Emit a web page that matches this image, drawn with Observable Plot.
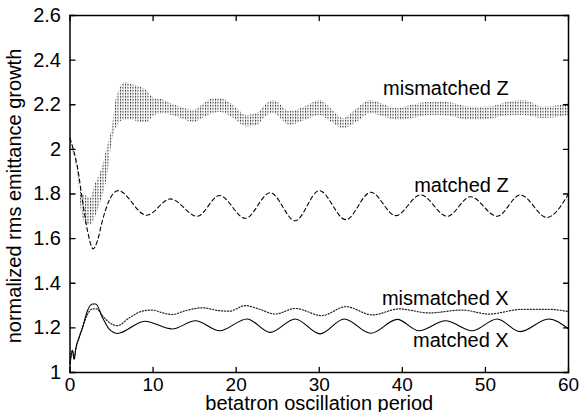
<!DOCTYPE html>
<html><head><meta charset="utf-8">
<script src="https://cdn.jsdelivr.net/npm/d3@7"></script>
<script src="https://cdn.jsdelivr.net/npm/@observablehq/plot@0.6"></script>
<style>body{margin:0;background:#fff} svg{display:block}</style>
</head><body><div id="chart"></div>
<script>
const xTicks = [0, 10, 20, 30, 40, 50, 60];
const yTicks = [1, 1.2, 1.4, 1.6, 1.8, 2, 2.2, 2.4, 2.6];
const xLabel = "betatron oscillation period";
const yLabel = "normalized rms emittance growth";

// mismatched Z: envelope of the fast oscillation (upper / lower)
const mzX  = [0, 0.5, 0.9, 1.5, 2.0, 2.5, 3.0, 3.5, 3.9, 4.5, 5.1, 5.5, 6.0, 6.5, 7.5, 8.5, 9.3, 10.1, 11.3, 12.5, 13.3, 14.9, 16.0, 17.3, 18.1, 19.7, 21.3, 22.5, 23.7, 24.5, 26.5, 28.3, 30.1, 31.5, 32.9, 34.5, 36.2, 37.8, 39.4, 41.4, 43.4, 45.4, 48.2, 50.6, 52.6, 54.6, 57.0, 60.0];
const mzHi = [2.05, 1.99, 1.93, 1.80, 1.79, 1.78, 1.84, 1.88, 1.92, 2.01, 2.10, 2.21, 2.27, 2.30, 2.29, 2.28, 2.26, 2.23, 2.22, 2.20, 2.19, 2.175, 2.20, 2.228, 2.228, 2.196, 2.152, 2.16, 2.205, 2.219, 2.17, 2.19, 2.219, 2.18, 2.138, 2.18, 2.219, 2.20, 2.183, 2.20, 2.211, 2.21, 2.189, 2.19, 2.21, 2.219, 2.189, 2.205];
const mzLo = [2.04, 1.97, 1.90, 1.70, 1.66, 1.66, 1.69, 1.74, 1.785, 1.875, 2.04, 2.09, 2.12, 2.13, 2.13, 2.12, 2.12, 2.15, 2.16, 2.15, 2.14, 2.12, 2.14, 2.16, 2.165, 2.138, 2.10, 2.107, 2.15, 2.16, 2.107, 2.13, 2.152, 2.12, 2.093, 2.12, 2.16, 2.145, 2.13, 2.14, 2.152, 2.15, 2.13, 2.135, 2.15, 2.152, 2.138, 2.152];

// matched Z
const zX = [0, 0.4, 0.9, 1.5, 2.1, 2.8, 3.3, 3.9, 4.7, 5.8, 9.2, 12.1, 15.3, 18.0, 21.1, 24.1, 27.1, 30.0, 33.2, 36.2, 39.2, 42.2, 45.4, 48.2, 51.4, 54.2, 57.4, 60];
const zY = [2.05, 2.00, 1.92, 1.77, 1.636, 1.554, 1.59, 1.681, 1.77, 1.815, 1.705, 1.778, 1.70, 1.793, 1.691, 1.806, 1.68, 1.815, 1.685, 1.808, 1.703, 1.796, 1.70, 1.788, 1.70, 1.796, 1.695, 1.80];

// mismatched X
const mxX = [0, 0.3, 0.5, 0.7, 1.1, 1.5, 2.1, 2.7, 3.2, 3.9, 4.7, 5.7, 7.1, 8.7, 9.9, 11.1, 12.3, 13.9, 15.9, 18.0, 19.2, 21.1, 22.7, 24.7, 27.1, 30.3, 33.2, 36.4, 39.6, 43.2, 47.2, 50.4, 54.4, 57.6, 60];
const mxY = [1.04, 1.10, 1.06, 1.107, 1.157, 1.20, 1.26, 1.285, 1.285, 1.255, 1.225, 1.21, 1.244, 1.275, 1.28, 1.268, 1.26, 1.277, 1.29, 1.277, 1.275, 1.30, 1.285, 1.262, 1.287, 1.255, 1.295, 1.258, 1.285, 1.267, 1.28, 1.262, 1.283, 1.283, 1.273];

// matched X
const xX = [0, 0.3, 0.5, 0.7, 1.1, 1.5, 2.1, 2.7, 3.1, 3.9, 4.7, 5.7, 9.0, 12.3, 15.1, 18.0, 21.3, 24.1, 27.1, 30.1, 33.0, 36.2, 39.4, 42.0, 45.2, 48.4, 51.4, 54.2, 57.6, 60];
const xY = [1.04, 1.098, 1.06, 1.107, 1.157, 1.20, 1.277, 1.307, 1.307, 1.247, 1.195, 1.175, 1.23, 1.195, 1.232, 1.187, 1.240, 1.180, 1.24, 1.173, 1.24, 1.176, 1.238, 1.187, 1.232, 1.187, 1.24, 1.183, 1.24, 1.195];

const labelText = ["mismatched Z", "matched Z", "mismatched X", "matched X"];
const labelX = [52.8, 52.8, 52.8, 52.8];
const labelY = [2.271, 1.838, 1.333, 1.145];

const mz = mzX.map((x, i) => ({x, hi: mzHi[i], lo: mzLo[i]}));
const z = zX.map((x, i) => ({x, y: zY[i]}));
const mx = mxX.map((x, i) => ({x, y: mxY[i]}));
const xm = xX.map((x, i) => ({x, y: xY[i]}));
const labels = labelText.map((t, i) => ({t, x: labelX[i], y: labelY[i]}));

const tickShape = {draw(ctx, l) { ctx.moveTo(0, 0); ctx.lineTo(0, -l); }};
const tickOpts = {length: 5, anchor: "start", shape: tickShape, stroke: "black", strokeWidth: 1.3};
const font = "'Liberation Sans', Arial, Helvetica, sans-serif";

const svg = Plot.plot({
  width: 581, height: 412,
  marginLeft: 69.5, marginRight: 13, marginTop: 15, marginBottom: 40,
  style: {fontFamily: font, fontSize: "20px", background: "white", color: "black"},
  x: {domain: [0, 60]},
  y: {domain: [1, 2.6]},
  marks: [
    Plot.areaY(mz, {x: "x", y1: "lo", y2: "hi", fill: "url(#mzpat)", curve: "monotone-x"}),
    Plot.line(mx, {x: "x", y: "y", stroke: "#222", strokeWidth: 1.2, strokeDasharray: "1.2,1.8", curve: "monotone-x"}),
    Plot.line(xm, {x: "x", y: "y", stroke: "black", strokeWidth: 1.1, curve: "monotone-x"}),
    Plot.line(z, {x: "x", y: "y", stroke: "black", strokeWidth: 1.1, strokeDasharray: "4,3", curve: "monotone-x"}),
    Plot.text(labels, {x: "x", y: "y", text: "t", textAnchor: "end", lineAnchor: "middle", fontSize: 20, fill: "black"}),
    Plot.axisX({ticks: xTicks, tickSize: 0, tickPadding: 5, fontSize: 19, label: null}),
    Plot.axisY({ticks: yTicks, tickSize: 0, tickPadding: 9, fontSize: 20, label: null, tickFormat: d => String(+d.toFixed(1))}),
    Plot.vector(xTicks, {x: d => d, frameAnchor: "bottom", rotate: 0, ...tickOpts}),
    Plot.vector(xTicks, {x: d => d, frameAnchor: "top", rotate: 180, ...tickOpts}),
    Plot.vector(yTicks, {y: d => d, frameAnchor: "left", rotate: 90, ...tickOpts}),
    Plot.vector(yTicks, {y: d => d, frameAnchor: "right", rotate: -90, ...tickOpts}),
    Plot.frame({stroke: "black", strokeWidth: 1.5}),
    Plot.text([xLabel], {frameAnchor: "bottom", dy: 37, textAnchor: "middle", lineAnchor: "bottom", fontSize: 20, fill: "black"}),
    Plot.text([yLabel], {frameAnchor: "left", dx: -49, dy: 2, rotate: -90, textAnchor: "middle", lineAnchor: "bottom", fontSize: 20, fill: "black"})
  ]
});

const defs = d3.select(svg).insert("defs", ":first-child");
const p = defs.append("pattern").attr("id", "mzpat").attr("patternUnits", "userSpaceOnUse")
  .attr("width", 2.5).attr("height", 3);
p.append("rect").attr("x", 0).attr("y", 0).attr("width", 1).attr("height", 1).attr("fill", "#333");
p.append("rect").attr("x", 0).attr("y", 1).attr("width", 1).attr("height", 1).attr("fill", "#888");
p.append("rect").attr("x", 0).attr("y", 2).attr("width", 1).attr("height", 1).attr("fill", "#ccc");

document.getElementById("chart").appendChild(svg);
</script>
</body></html>
